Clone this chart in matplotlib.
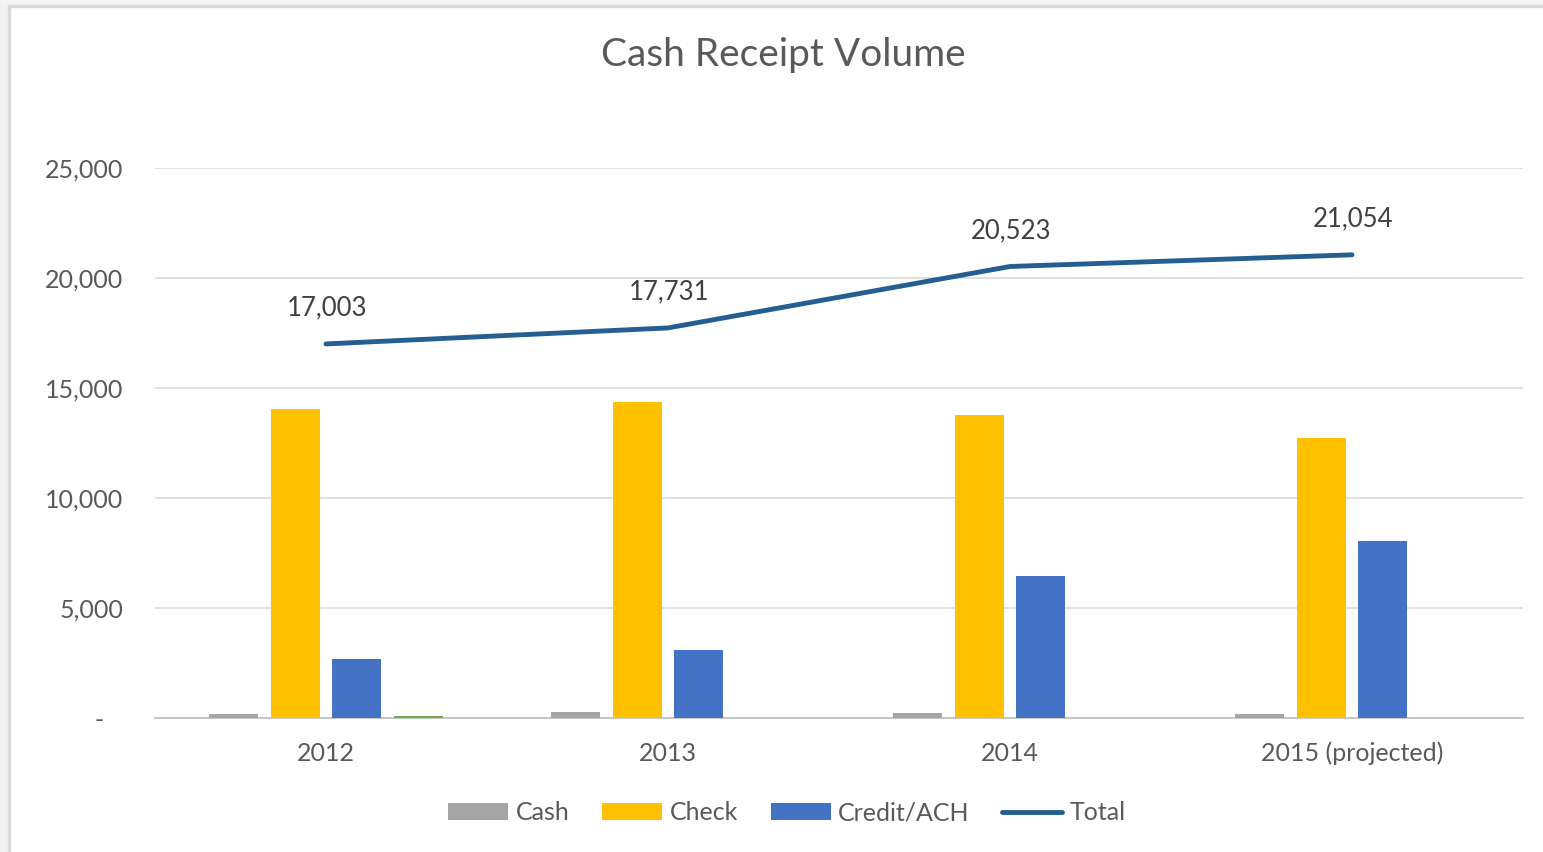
import matplotlib
matplotlib.use("Agg")
import matplotlib.pyplot as plt
import numpy as np
from matplotlib.patches import Rectangle
from matplotlib.ticker import FuncFormatter

# values
years = ["2012", "2013", "2014", "2015 (projected)"]
cash = [200, 260, 250, 200]
check = [14050, 14370, 13780, 12750]
credit = [2700, 3100, 6440, 8050]
other = [80, 0, 0, 0]          # small green bar, not in legend
total = [17003, 17731, 20523, 21054]

txtColor = "#595959"
plt.rcParams['font.family'] = ['Lato', 'DejaVu Sans']

fig = plt.figure(figsize=(15.43, 8.52), dpi=100)
fig.patch.set_facecolor("white")

# grey frame on left/top like the screenshot
W, H = 1543.0, 852.0
fig.patches.append(Rectangle((0, 0), 8 / W, 1, transform=fig.transFigure, color="#F0F0F0", zorder=0))
fig.patches.append(Rectangle((0, 1 - 5 / H), 1, 5 / H, transform=fig.transFigure, color="#F2F2F2", zorder=0))
fig.patches.append(Rectangle((8 / W, 0), 2 / W, 1 - 5 / H, transform=fig.transFigure, color="#D9D9D9", zorder=1))
fig.patches.append(Rectangle((8 / W, 1 - 7 / H), 1, 2 / H, transform=fig.transFigure, color="#D9D9D9", zorder=1))

ax = fig.add_axes([155 / W, 1 - 718 / H, (1523 - 155) / W, (718 - 168) / H])

x = np.arange(len(years))
step = 0.181
bw = 0.143
b1 = ax.bar(x - 1.5 * step, cash, bw, color="#A5A5A5", label="Cash", zorder=3)
b2 = ax.bar(x - 0.5 * step, check, bw, color="#FFC000", label="Check", zorder=3)
b3 = ax.bar(x + 0.5 * step, credit, bw, color="#4472C4", label="Credit/ACH", zorder=3)
ax.bar(x + 1.5 * step, other, bw, color="#70AD47", label="_other", zorder=3)
ln, = ax.plot(x, total, color="#255E91", lw=3.5, solid_capstyle="round", label="Total", zorder=4)

for xi, t in zip(x, total):
    ax.annotate(f"{t:,}", (xi, t), xytext=(1, 26), textcoords="offset points",
                ha="center", va="center", fontsize=18.5, color="#404040")

ax.set_xlim(-0.5, 3.5)
ax.set_ylim(0, 25000)
ax.set_yticks(np.arange(0, 25001, 5000))
ax.yaxis.set_major_formatter(FuncFormatter(lambda v, p: "-   " if v == 0 else f"{v:,.0f}"))
ax.set_xticks(x)
ax.set_xticklabels(years)
ax.tick_params(axis="y", length=0, pad=23, labelsize=18, labelcolor=txtColor)
ax.tick_params(axis="x", length=0, pad=17, labelsize=18, labelcolor=txtColor)

ax.grid(axis="y", color="#D9D9D9", lw=1.2, zorder=0)
for s in ["top", "right", "left"]:
    ax.spines[s].set_visible(False)
ax.spines["bottom"].set_color("#BFBFBF")
ax.spines["bottom"].set_linewidth(1.2)

fig.text(783 / W, 1 - 55 / H, "Cash Receipt Volume", ha="center", va="center",
         fontsize=28, color=txtColor)

leg = ax.legend([b1, b2, b3, ln], ["Cash", "Check", "Credit/ACH", "Total"],
                loc="center", bbox_to_anchor=(787 / W, 1 - 813 / H), bbox_transform=fig.transFigure,
                ncol=4, frameon=False, fontsize=18, handlelength=2.4, handleheight=0.65,
                handletextpad=0.3, columnspacing=1.3)
for t in leg.get_texts():
    t.set_color(txtColor)

fig.savefig("out.png", dpi=100)
